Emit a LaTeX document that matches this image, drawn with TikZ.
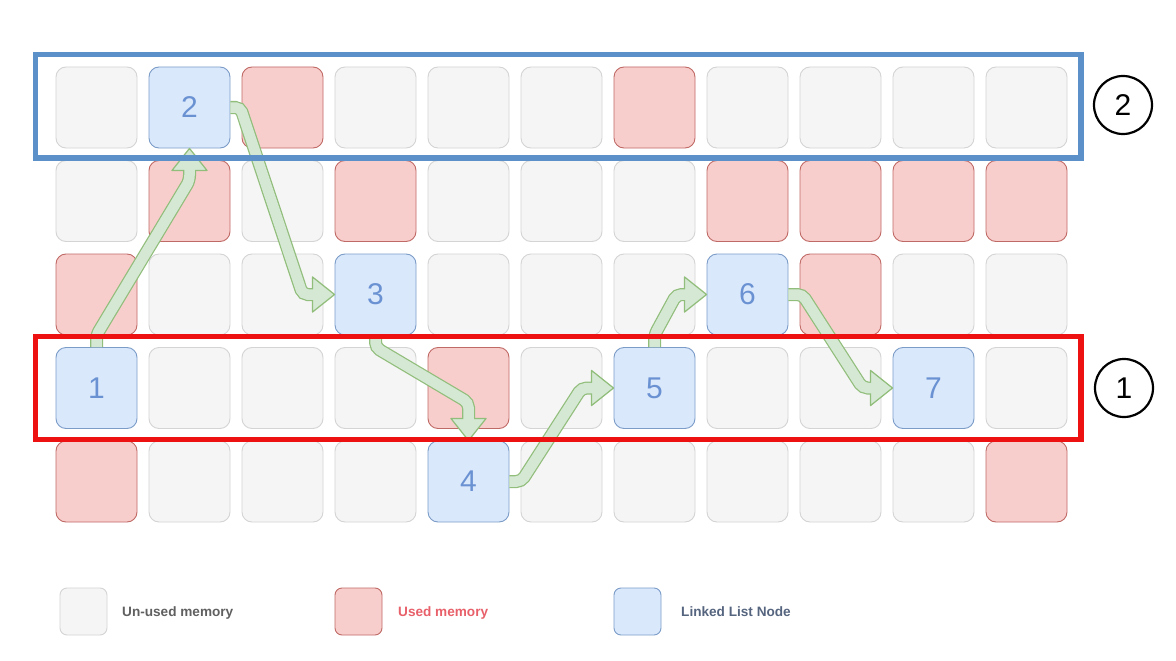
\documentclass[tikz,border=0pt]{standalone}
\usepackage{fontspec}
\setmainfont{Liberation Sans}
\usetikzlibrary{calc}
\definecolor{unF}{HTML}{F5F5F5}
\definecolor{unD}{HTML}{D4D4D4}
\definecolor{usF}{HTML}{F8CECC}
\definecolor{usD}{HTML}{C06A66}
\definecolor{llF}{HTML}{DAE8FC}
\definecolor{llD}{HTML}{7C9CC8}
\definecolor{llT}{HTML}{6A92D2}
\definecolor{arF}{HTML}{D5E8D4}
\definecolor{arD}{HTML}{92BE7C}
\definecolor{boxB}{HTML}{5C90C9}
\definecolor{boxR}{HTML}{EE1111}
\definecolor{txG}{HTML}{606060}
\definecolor{txR}{HTML}{E8606A}
\definecolor{txB}{HTML}{56657F}
\newcommand\fatarrow[4]{%
  \draw[arbody] #1 -- ($(#2)+({-22*(#3)},{-22*(#4)})$);
  \draw[arhead] (#2) -- ($(#2)+({-22*(#3)+17.5*(#4)},{-22*(#4)-17.5*(#3)})$)
     -- ($(#2)+({-22*(#3)-17.5*(#4)},{-22*(#4)+17.5*(#3)})$) -- cycle;
  \draw[arfill] #1 -- ($(#2)+({-20.5*(#3)},{-20.5*(#4)})$);
}
\begin{document}
\begin{tikzpicture}[x=1pt,y=-1pt,
  cell/.style={minimum size=81pt, inner sep=0pt, rounded corners=10pt, line width=0.9pt},
  unused/.style={cell, fill=unF, draw=unD},
  used/.style={cell, fill=usF, draw=usD},
  llnode/.style={cell, fill=llF, draw=llD, text=llT, font=\fontsize{30}{30}\selectfont},
  arbody/.style={draw=arD, line width=13pt, rounded corners=5pt},
  arfill/.style={draw=arF, line width=10.5pt, rounded corners=5pt},
  arhead/.style={fill=arF, draw=arD, line width=1.25pt, line join=round},
  marker/.style={circle, draw=black, line width=2.2pt, minimum size=58pt, inner sep=0pt, font=\fontsize{30}{30}\selectfont},
  legbox/.style={minimum size=47pt, rounded corners=7pt},
  legtext/.style={anchor=base west, inner sep=0pt, font=\fontsize{13.6}{15}\selectfont\bfseries}
]
\useasboundingbox[fill=white] (0,0) rectangle (1176,661);

\foreach \st/\lab [count=\c from 0] in {unused/{},llnode/2,used/{},unused/{},unused/{},unused/{},used/{},unused/{},unused/{},unused/{},unused/{}}
  \node[\st] (c0-\c) at ({96.5+93*\c},107.5) {\lab};
\foreach \st/\lab [count=\c from 0] in {unused/{},used/{},unused/{},used/{},unused/{},unused/{},unused/{},used/{},used/{},used/{},used/{}}
  \node[\st] (c1-\c) at ({96.5+93*\c},201) {\lab};
\foreach \st/\lab [count=\c from 0] in {used/{},unused/{},unused/{},llnode/3,unused/{},unused/{},unused/{},llnode/6,used/{},unused/{},unused/{}}
  \node[\st] (c2-\c) at ({96.5+93*\c},294.5) {\lab};
\foreach \st/\lab [count=\c from 0] in {llnode/1,unused/{},unused/{},unused/{},used/{},unused/{},llnode/5,unused/{},unused/{},llnode/7,unused/{}}
  \node[\st] (c3-\c) at ({96.5+93*\c},388) {\lab};
\foreach \st/\lab [count=\c from 0] in {used/{},unused/{},unused/{},unused/{},llnode/4,unused/{},unused/{},unused/{},unused/{},unused/{},used/{}}
  \node[\st] (c4-\c) at ({96.5+93*\c},481.5) {\lab};

% linked list arrows
\fatarrow{(c3-0.north) -- ++(0,-12) -- ($(c0-1.south)+(0,32)$)}{c0-1.south}{0}{-1}
\fatarrow{(c0-1.east) -- ++(10,0) -- ($(c2-3.west)+(-32,0)$)}{c2-3.west}{1}{0}
\fatarrow{(c2-3.south) -- ++(0,12) -- ($(c4-4.north)+(0,-38)$)}{c4-4.north}{0}{1}
\fatarrow{(c4-4.east) -- ++(12,0) -- ($(c3-6.west)+(-32,0)$)}{c3-6.west}{1}{0}
\fatarrow{(c3-6.north) -- ++(0,-12) -- ($(c2-7.west)+(-30,0)$)}{c2-7.west}{1}{0}
\fatarrow{(c2-7.east) -- ++(14,0) -- ($(c3-9.west)+(-30,0)$)}{c3-9.west}{1}{0}

% highlighted regions
\draw[boxB, line width=5.5pt] (35.5,54.5) rectangle (1081,158);
\draw[boxR, line width=5.5pt] (35.5,336.5) rectangle (1081,439.5);
\node[marker] (m2) at (1123,105) {2};
\node[marker] (m1) at (1124,388) {1};

% legend
\node[unused, legbox] (lg1) at (83.5,611.5) {};
\node[legtext, text=txG] (lt1) at (122,616.5) {Un-used memory};
\node[used, legbox] (lg2) at (358.5,611.5) {};
\node[legtext, text=txR] (lt2) at (398,616.5) {Used memory};
\node[llnode, legbox] (lg3) at (637.5,611.5) {};
\node[legtext, text=txB] (lt3) at (681,616.5) {Linked List Node};
\end{tikzpicture}
\end{document}
